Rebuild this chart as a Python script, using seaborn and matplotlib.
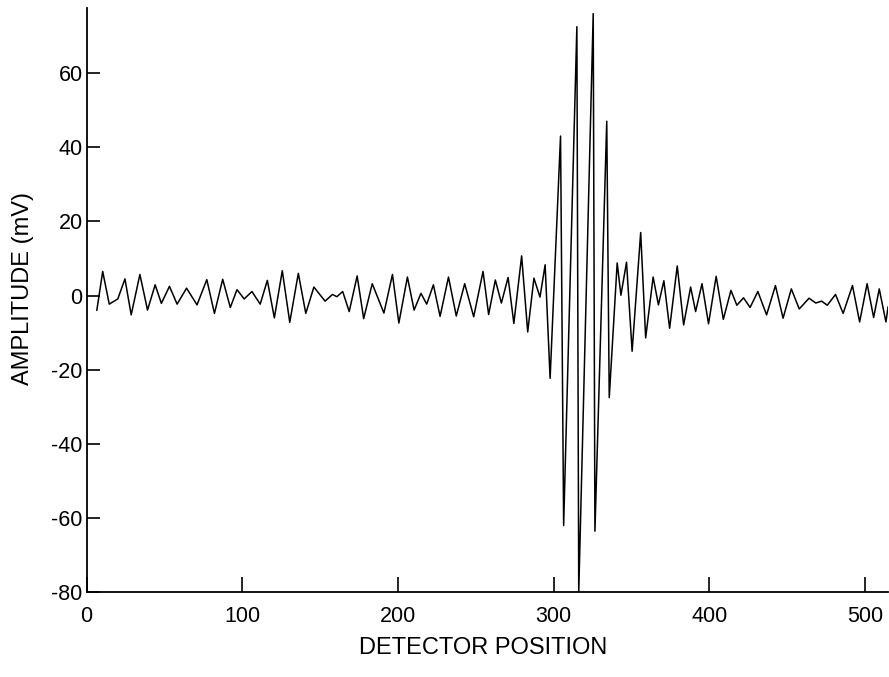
import matplotlib
matplotlib.use("Agg")
import matplotlib.pyplot as plt
import seaborn as sns
import pandas as pd

# Detector position (x) and amplitude in mV (y)
position = [
    6.5, 10.3, 14.5, 20.0, 24.6, 28.6, 34.2, 39.1, 44.0, 48.0,
    53.2, 58.1, 64.2, 70.9, 77.2, 82.1, 87.4, 92.3, 96.6, 101.2,
    106.2, 111.5, 116.1, 120.6, 125.7, 130.5, 136.0, 140.8, 146.0, 153.2,
    157.9, 160.8, 164.5, 168.7, 173.8, 178.0, 183.5, 191.0, 196.5, 200.6,
    206.1, 210.4, 214.8, 218.5, 222.8, 227.1, 232.5, 237.5, 242.9, 248.7,
    254.7, 258.3, 262.6, 266.5, 270.8, 274.5, 279.5, 283.4, 287.4, 291.3,
    294.6, 297.8, 304.5, 306.5, 315.0, 316.2, 325.5, 326.6, 334.2, 335.8,
    340.9, 343.3, 346.9, 350.5, 356.0, 359.2, 364.0, 367.4, 370.9, 374.6,
    379.5, 383.6, 388.1, 391.3, 395.4, 399.6, 404.5, 409.1, 414.0, 417.8,
    422.1, 426.3, 431.3, 436.9, 442.6, 447.5, 452.8, 457.9, 464.2, 468.5,
    472.3, 475.9, 481.2, 486.1, 492.1, 496.7, 501.5, 505.7, 509.3, 513.6,
    515.0,
]
amplitude = [
    -4.0, 6.5, -2.3, -0.9, 4.5, -5.2, 5.7, -3.9, 2.9, -2.1,
    2.5, -2.3, 2.0, -2.5, 4.3, -4.8, 4.4, -3.2, 1.6, -0.9,
    1.1, -2.3, 4.1, -6.0, 6.7, -7.2, 6.0, -4.8, 2.3, -1.5,
    0.3, -0.3, 1.1, -4.3, 5.3, -6.2, 3.2, -4.7, 5.7, -7.4,
    5.0, -3.9, 0.6, -2.3, 2.9, -5.6, 5.0, -5.5, 3.2, -5.7,
    6.5, -5.1, 4.2, -2.0, 4.9, -7.5, 10.7, -9.8, 4.7, -0.4,
    8.3, -22.3, 43.0, -62.0, 72.5, -80.0, 76.0, -63.5, 47.0, -27.5,
    8.8, 0.1, 9.0, -15.0, 17.0, -11.4, 5.0, -2.5, 4.0, -8.8,
    8.0, -7.9, 2.3, -4.3, 3.2, -7.6, 5.2, -6.4, 1.4, -2.6,
    -0.6, -3.2, 1.1, -5.2, 2.7, -6.1, 1.8, -3.6, -0.7, -2.0,
    -1.5, -2.6, 0.3, -4.8, 2.7, -7.1, 3.2, -5.9, 1.8, -7.1,
    -3.0,
]

x_ticks = [0, 100, 200, 300, 400, 500]
y_ticks = [-80, -60, -40, -20, 0, 20, 40, 60]

sns.set_style("ticks")
plt.rcParams["font.family"] = ["Liberation Sans", "DejaVu Sans"]

df = pd.DataFrame({"position": position, "amplitude": amplitude})

fig = plt.figure(figsize=(8.89, 6.77), dpi=100)
ax = fig.add_axes([0.0975, 0.125, 0.9015, 0.8625])

sns.lineplot(data=df, x="position", y="amplitude", color="black",
             linewidth=1.1, ax=ax, sort=False, estimator=None)
for ln in ax.get_lines():
    ln.set_solid_joinstyle("round")

ax.set_xlim(0, 515)
ax.set_ylim(-80, 77.4)
ax.set_xticks(x_ticks)
ax.set_yticks(y_ticks)
ax.set_xticklabels([str(v) for v in x_ticks])
ax.set_yticklabels([str(v) for v in y_ticks])

for side in ("top", "right"):
    ax.spines[side].set_visible(False)
for side in ("left", "bottom"):
    ax.spines[side].set_linewidth(1.3)
    ax.spines[side].set_color("black")

ax.tick_params(axis="y", direction="in", length=9.5, width=1.2,
               labelsize=15.5, pad=3, colors="black")
ax.tick_params(axis="x", direction="in", length=11, width=1.2,
               labelsize=15.5, pad=10, colors="black")

ax.set_xlabel("DETECTOR POSITION", fontsize=17, color="black")
ax.set_ylabel("AMPLITUDE (mV)", fontsize=17, color="black")
ax.xaxis.set_label_coords(0.495, -0.077)
ax.yaxis.set_label_coords(-0.066, 0.52)

fig.savefig("out.png", dpi=100, facecolor="white")
